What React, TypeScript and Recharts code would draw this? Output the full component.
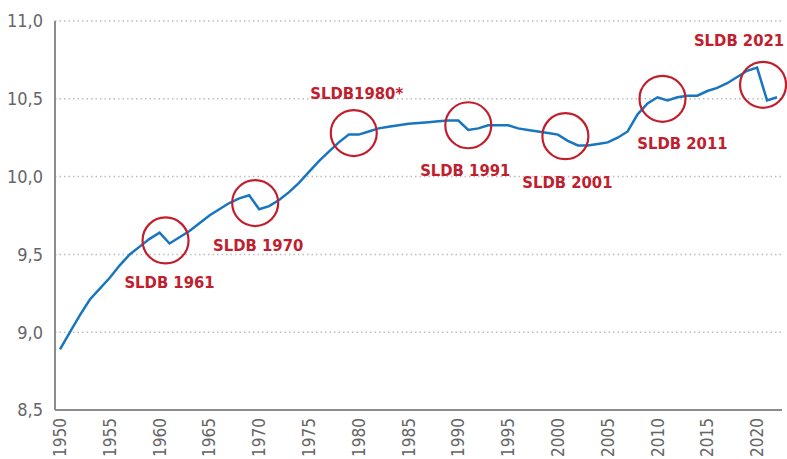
import {
  LineChart,
  Line,
  XAxis,
  YAxis,
  CartesianGrid,
  ReferenceDot,
} from "recharts";

// years on the x axis
const years = [
  1950, 1951, 1952, 1953, 1954, 1955, 1956, 1957, 1958, 1959,
  1960, 1961, 1962, 1963, 1964, 1965, 1966, 1967, 1968, 1969,
  1970, 1971, 1972, 1973, 1974, 1975, 1976, 1977, 1978, 1979,
  1980, 1981, 1982, 1983, 1984, 1985, 1986, 1987, 1988, 1989,
  1990, 1991, 1992, 1993, 1994, 1995, 1996, 1997, 1998, 1999,
  2000, 2001, 2002, 2003, 2004, 2005, 2006, 2007, 2008, 2009,
  2010, 2011, 2012, 2013, 2014, 2015, 2016, 2017, 2018, 2019,
  2020, 2021, 2022,
];

const values = [
  8.89, 9.0, 9.11, 9.21, 9.28, 9.35, 9.43, 9.5, 9.55, 9.6,
  9.64, 9.57, 9.61, 9.65, 9.7, 9.75, 9.79, 9.83, 9.86, 9.88,
  9.79, 9.81, 9.85, 9.9, 9.96, 10.03, 10.1, 10.16, 10.22, 10.27,
  10.27, 10.29, 10.31, 10.32, 10.33, 10.34, 10.345, 10.35, 10.355, 10.36,
  10.36, 10.3, 10.31, 10.33, 10.33, 10.33, 10.31, 10.3, 10.29, 10.28,
  10.27, 10.23, 10.2, 10.2, 10.21, 10.22, 10.25, 10.29, 10.4, 10.47,
  10.51, 10.49, 10.51, 10.52, 10.52, 10.55, 10.57, 10.6, 10.64, 10.68,
  10.7, 10.49, 10.51,
];

const xTicks = [
  1950, 1955, 1960, 1965, 1970, 1975, 1980, 1985,
  1990, 1995, 2000, 2005, 2010, 2015, 2020,
];
const yTicks = [8.5, 9, 9.5, 10, 10.5, 11];

// census markers
const censusLabels = [
  "SLDB 1961", "SLDB 1970", "SLDB1980*", "SLDB 1991",
  "SLDB 2001", "SLDB 2011", "SLDB 2021",
];
const censusX = [1960.6, 1969.6, 1979.5, 1991.0, 2000.75, 2010.5, 2020.6];
const censusY = [9.59, 9.83, 10.28, 10.33, 10.26, 10.5, 10.59];

// label offsets from circle centre, px
const labelOffsets = [
  [4, 42], [3, 42], [3, -40], [-3, 45], [2, 46], [20, 45], [-24, -44],
];

const data = years.map((year, i) => ({ year, value: values[i] }));

const RED = "#c0202e";
const BLUE = "#1776bf";
const FONT = "'DejaVu Sans Condensed', 'Liberation Sans Narrow', 'Open Sans', sans-serif";

const YearTick = ({ x, y, payload }: any) => (
  <g transform={`translate(${x},${y})`}>
    <text
      transform="rotate(-90)"
      textAnchor="end"
      dominantBaseline="central"
      fill="#666"
      fontSize={17}
      fontFamily={FONT}
    >
      {payload.value}
    </text>
  </g>
);

const makeLabel = (text: string, dx: number, dy: number) =>
  (props: any) => {
    const vb = props.viewBox || {};
    const cx = vb.x + vb.width / 2;
    const cy = vb.y + vb.height / 2;
    return (
      <text
        x={cx + dx}
        y={cy + dy}
        textAnchor="middle"
        dominantBaseline="central"
        fill={RED}
        fontSize={16.5}
        fontWeight="bold"
        fontFamily={FONT}
      >
        {text}
      </text>
    );
  };

export default function App() {
  return (
    <div style={{ position: "absolute", left: 0, top: 0 }}>
      <LineChart
        width={787}
        height={459}
        data={data}
        margin={{ top: 21, right: 5, left: 0, bottom: 0 }}
      >
        <CartesianGrid
          vertical={false}
          stroke="#bdbdbd"
          strokeDasharray="1.5 3"
          strokeWidth={1.5}
        />
        <XAxis
          dataKey="year"
          type="number"
          domain={[1950, 2022]}
          ticks={xTicks}
          padding={{ left: 5, right: 5 }}
          height={49}
          tickLine={false}
          axisLine={{ stroke: "#8c8c8c", strokeWidth: 2 }}
          tick={<YearTick />}
          interval={0}
        />
        <YAxis
          domain={[8.5, 11]}
          ticks={yTicks}
          width={55}
          tickLine={false}
          tickMargin={6}
          axisLine={{ stroke: "#8c8c8c", strokeWidth: 2 }}
          tickFormatter={(v: number) => v.toFixed(1).replace(".", ",")}
          tick={{ fill: "#666", fontSize: 18, fontFamily: FONT }}
        />
        <Line
          dataKey="value"
          type="linear"
          stroke={BLUE}
          strokeWidth={2.5}
          dot={false}
          isAnimationActive={false}
        />
        {censusLabels.map((label, i) => (
          <ReferenceDot
            key={label}
            x={censusX[i]}
            y={censusY[i]}
            r={23}
            fill="none"
            stroke={RED}
            strokeWidth={2.2}
            label={makeLabel(label, labelOffsets[i][0], labelOffsets[i][1])}
          />
        ))}
      </LineChart>
    </div>
  );
}
